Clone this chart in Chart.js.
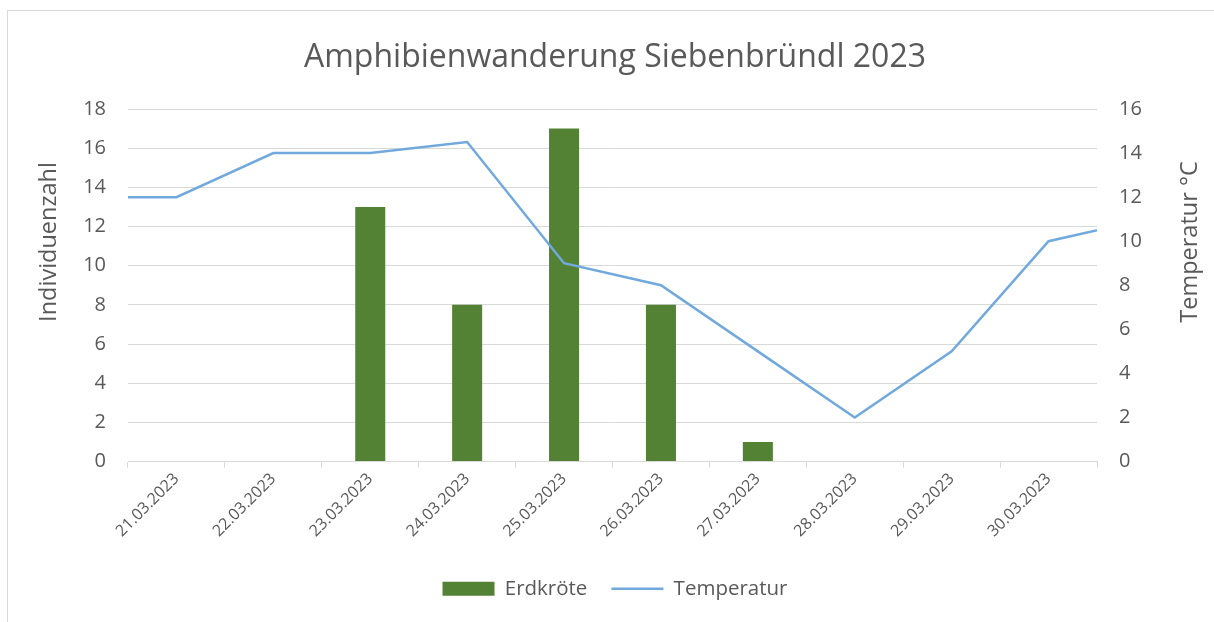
<!DOCTYPE html>
<html>
<head>
<meta charset="utf-8">
<script src="https://cdn.jsdelivr.net/npm/chart.js@4/dist/chart.umd.min.js"></script>
<style>
  html, body { margin: 0; padding: 0; background: #fff; }
  #wrap { position: relative; width: 1214px; height: 622px; overflow: hidden; }
  #frame { position: absolute; left: 7px; top: 10px; width: 1300px; height: 700px;
           border-left: 1px solid #d9d9d9; border-top: 1px solid #d9d9d9; pointer-events: none; }
  canvas { position: absolute; left: 0; top: 0; }
</style>
</head>
<body>
<div id="wrap">
  <canvas id="myChart" width="1214" height="622"></canvas>
  <div id="frame"></div>
</div>
<script>
// categories and values
const days = ["21.03.2023", "22.03.2023", "23.03.2023", "24.03.2023", "25.03.2023",
              "26.03.2023", "27.03.2023", "28.03.2023", "29.03.2023", "30.03.2023"];
const erdkroete = [0, 0, 13, 8, 17, 8, 1, 0, 0, 0];
// temperature runs one day before and after the shown range (20.03 .. 31.03), clipped at the plot edge
const tempIndex = [-1, 0, 1, 2, 3, 4, 5, 6, 7, 8, 9, 10];
const temperatur = [12, 12, 14, 14, 14.5, 9, 8, 5, 2, 5, 10, 11];
const leftTicks = [0, 2, 4, 6, 8, 10, 12, 14, 16, 18];
const rightTicks = [0, 2, 4, 6, 8, 10, 12, 14, 16];

const textColor = "#595959";
const gridColor = "#d9d9d9";
const fontFamily = "'Open Sans', 'Liberation Sans', sans-serif";

// axis titles, both reading bottom-to-top like in Excel
const axisTitles = {
  id: "axisTitles",
  afterDraw(chart) {
    const ctx = chart.ctx;
    const midY = 242;
    const draw = (text, x) => {
      ctx.save();
      ctx.translate(x, midY);
      ctx.rotate(-Math.PI / 2);
      ctx.fillStyle = textColor;
      ctx.font = "23.5px " + fontFamily;
      ctx.textAlign = "center";
      ctx.textBaseline = "middle";
      ctx.fillText(text, 0, 0);
      ctx.restore();
    };
    draw("Individuenzahl", chart.scales.y.left + 19);
    draw("Temperatur °C", chart.scales.y1.right - 10);
  },
};

const ctx = document.getElementById("myChart").getContext("2d");
const myChart = new Chart(ctx, {
  type: "bar",
  data: {
    labels: days,
    datasets: [
      {
        type: "bar",
        label: "Erdkröte",
        data: erdkroete,
        backgroundColor: "#548235",
        borderWidth: 0,
        grouped: false,
        barPercentage: 1,
        categoryPercentage: 0.31,
        pointStyle: "rect",
        xAxisID: "x",
        yAxisID: "y",
        order: 2,
      },
      {
        type: "line",
        label: "Temperatur",
        data: tempIndex.map((i, k) => ({ x: i, y: temperatur[k] })),
        borderColor: "#72a9dd",
        backgroundColor: "#72a9dd",
        borderWidth: 2.5,
        pointRadius: 0,
        pointStyle: "line",
        tension: 0,
        clip: 0,
        xAxisID: "x2",
        yAxisID: "y1",
        order: 1,
      },
    ],
  },
  options: {
    responsive: false,
    animation: false,
    layout: { padding: { left: 30, right: 14, top: 0, bottom: 13 } },
    plugins: {
      title: {
        display: true,
        text: "Amphibienwanderung Siebenbründl 2023",
        color: textColor,
        font: { family: fontFamily, size: 32, weight: "normal" },
        padding: { top: 39, bottom: 31.6 },
      },
      legend: {
        position: "bottom",
        labels: {
          color: textColor,
          font: { family: fontFamily, size: 20.5 },
          usePointStyle: true,
          pointStyleWidth: 52,
          boxHeight: 14,
          padding: 24,
          sort: (a, b) => a.datasetIndex - b.datasetIndex,
        },
      },
      tooltip: { enabled: false },
    },
    scales: {
      x: {
        type: "category",
        offset: true,
        grid: { offset: true, drawOnChartArea: false, drawTicks: true, tickLength: 6, color: gridColor },
        border: { display: true, color: gridColor },
        ticks: {
          color: textColor,
          font: { family: fontFamily, size: 16 },
          minRotation: 45,
          maxRotation: 45,
          padding: 2,
        },
        afterFit: (s) => { s.height = 93; },
      },
      x2: {
        type: "linear",
        display: false,
        offset: false,
        bounds: "data",
        min: -0.5,
        max: days.length - 0.5,
        grid: { offset: false },
      },
      y: {
        position: "left",
        min: leftTicks[0],
        max: leftTicks[leftTicks.length - 1],
        afterBuildTicks: (s) => { s.ticks = leftTicks.map((v) => ({ value: v })); },
        grid: { color: gridColor, drawTicks: false },
        border: { display: false },
        ticks: { color: textColor, font: { family: fontFamily, size: 20 }, padding: 22 },
        afterFit: (s) => { s.width = 98; },
      },
      y1: {
        position: "right",
        min: rightTicks[0],
        max: rightTicks[rightTicks.length - 1],
        afterBuildTicks: (s) => { s.ticks = rightTicks.map((v) => ({ value: v })); },
        grid: { drawOnChartArea: false, drawTicks: false },
        border: { display: false },
        ticks: { color: textColor, font: { family: fontFamily, size: 20 }, padding: 22 },
        afterFit: (s) => { s.width = 103; },
      },
    },
  },
  plugins: [axisTitles],
});
</script>
</body>
</html>
